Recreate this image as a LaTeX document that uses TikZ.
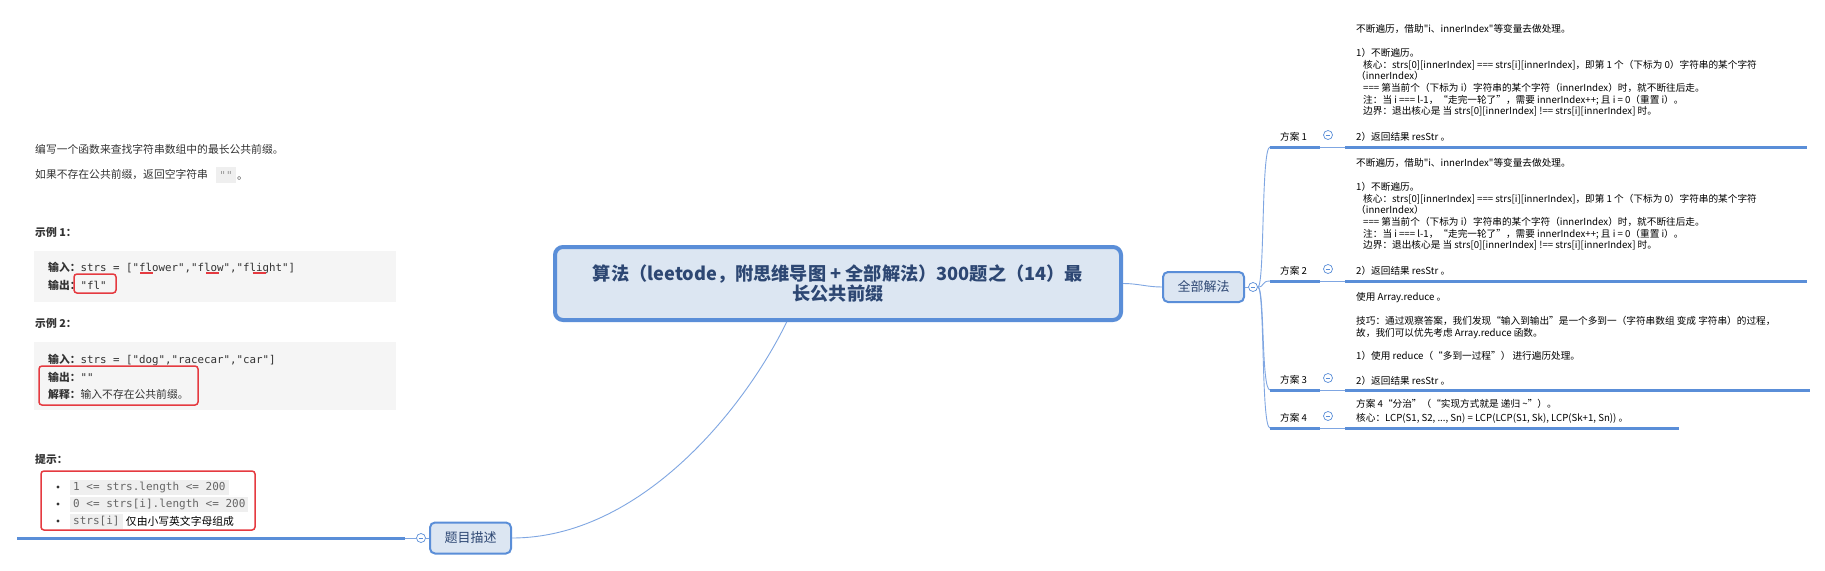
\documentclass[tikz,border=0pt]{standalone}
\usepackage{fontspec}
\setmainfont{Noto Sans CJK SC}
\newfontfamily\cjkplain{Noto Sans CJK SC}
\setmonofont{DejaVu Sans Mono}
\usepackage{xcolor}
\usepackage{tikz}
\usetikzlibrary{positioning}
\usetikzlibrary{calc}

\definecolor{mapblue}{HTML}{5A8ED8}
\definecolor{linkblue}{HTML}{7FA6E2}
\definecolor{mapfill}{HTML}{DCE6F2}
\definecolor{titleink}{HTML}{2D4773}
\definecolor{hintred}{HTML}{E53A40}
\definecolor{codebg}{HTML}{F5F5F5}
\definecolor{inlinebg}{HTML}{EFEFEF}
\definecolor{bodyink}{HTML}{333333}
\definecolor{codeink}{HTML}{666666}

\begin{document}
\begin{tikzpicture}[x=1pt, y=-1pt,
    topic/.style={draw=mapblue, fill=mapfill, line width=2pt, rounded corners=5pt,
        inner sep=0pt, text=titleink, font=\fontsize{13}{15}\selectfont},
    fold/.style={circle, draw=mapblue, fill=white, line width=0.7pt, minimum size=9pt, inner sep=0pt,
        path picture={\draw[mapblue, line width=0.7pt]
            ([xshift=-2.4pt]path picture bounding box.center) -- ([xshift=2.4pt]path picture bounding box.center);}},
    link/.style={linkblue, line width=0.9pt},
    branch/.style={mapblue, line width=3pt},
    txt/.style={inner sep=0pt, text=bodyink, font=\fontsize{10.8}{13}\selectfont},
    head/.style={txt, font=\bfseries\fontsize{10.8}{13}\selectfont},
    note/.style={inner sep=0pt, text=black, align=left, font=\cjkplain\fontsize{9.65}{11.7}\selectfont},
    codebox/.style={fill=codebg, inner sep=0pt},
    inlinecode/.style={fill=inlinebg, inner xsep=3pt, inner ysep=0pt, minimum height=15pt, text=codeink,
        font=\ttfamily\fontsize{11}{13}\selectfont},
    hintbox/.style={draw=hintred, line width=1.5pt, rounded corners=3pt, inner sep=0pt},
    hintline/.style={hintred, line width=1.6pt}]

    \fill[white] (0,0) rectangle (1825,570);
    \useasboundingbox (0,0) rectangle (1825,570);

    % central topic and the two main branches
    \node[topic, line width=4pt, rounded corners=8pt, minimum width=566pt, minimum height=73pt, align=center,
        font=\bfseries\fontsize{18.2}{20.5}\selectfont] (title) at (838,283.5)
        {算法（leetode，附思维导图 + 全部解法）300题之（14）最\\长公共前缀};
    \node[topic, minimum width=81pt, minimum height=30pt] (qb) at (1203.5,287) {全部解法};
    \node[fold] (qbfold) at (1253,287) {};
    \node[topic, minimum width=81pt, minimum height=31pt] (tm) at (470.5,538) {题目描述};
    \node[fold] (tmfold) at (421,538) {};
    \coordinate (tmcut) at (405,538);
    \coordinate (tmend) at (17,538);

    \draw[link] (title.east) to[out=0, in=180] (qb.west);
    \draw[link] (qb.east) -- (qbfold.west);
    \draw[link] ($(title.south west)!0.41!(title.south east)$) .. controls +(-43,88) and +(128,0) .. (tm.east);
    \draw[link] (tm.west) -- (tmfold.east);
    \draw[link] (tmfold.west) -- (tmcut);
    \draw[branch] (tmcut) -- (tmend);

    % solutions
    \foreach \i/\y/\e in {1/147/1807, 2/281/1807, 3/390/1810, 4/428/1679}{
        \coordinate (s\i) at (1270,\y);
        \coordinate (m\i) at (1320,\y);
        \coordinate (n\i) at (1345,\y);
        \coordinate (e\i) at (\e,\y);
        \node[note, anchor=west] (plan\i) at (1280,{\y-10}) {方案 \i};
        \node[fold] (fold\i) at (1328,{\y-12}) {};
        \draw[link] (qbfold.east) .. controls +(7,0) and +(-9,0) .. (s\i);
        \draw[branch] (s\i) -- (m\i);
        \draw[link] (m\i) -- (n\i);
        \draw[branch] (n\i) -- (e\i);
    }

    \node[note, anchor=north west] (plan1txt) at (1356,24.6) {不断遍历，借助"i、innerIndex"等变量去做处理。\\[11.7pt]
        1）不断遍历。\\
        \hspace*{7pt}核心：strs[0][innerIndex] === strs[i][innerIndex]，即第 1 个（下标为 0）字符串的某个字符\\
        （innerIndex）\\
        \hspace*{7pt}=== 第当前个（下标为 i）字符串的某个字符（innerIndex）时，就不断往后走。\\
        \hspace*{7pt}注：当 i === l-1，“走完一轮了”，需要 innerIndex++; 且 i = 0（重置 i）。\\
        \hspace*{7pt}边界：退出核心是 当 strs[0][innerIndex] !== strs[i][innerIndex] 时。\\[14.3pt]
        2）返回结果 resStr 。};
    \node[note, anchor=north west] (plan2txt) at (1356,158.6) {不断遍历，借助"i、innerIndex"等变量去做处理。\\[11.7pt]
        1）不断遍历。\\
        \hspace*{7pt}核心：strs[0][innerIndex] === strs[i][innerIndex]，即第 1 个（下标为 0）字符串的某个字符\\
        （innerIndex）\\
        \hspace*{7pt}=== 第当前个（下标为 i）字符串的某个字符（innerIndex）时，就不断往后走。\\
        \hspace*{7pt}注：当 i === l-1，“走完一轮了”，需要 innerIndex++; 且 i = 0（重置 i）。\\
        \hspace*{7pt}边界：退出核心是 当 strs[0][innerIndex] !== strs[i][innerIndex] 时。\\[14.3pt]
        2）返回结果 resStr 。};
    \node[note, anchor=north west] (plan3txt) at (1356,292.6) {使用 Array.reduce 。\\[11.7pt]
        技巧：通过观察答案，我们发现“输入到输出”是一个多到一（字符串数组 变成 字符串）的过程，\\
        故，我们可以优先考虑 Array.reduce 函数。\\[11.7pt]
        1）使用 reduce（“多到一过程”） 进行遍历处理。\\[13.3pt]
        2）返回结果 resStr 。};
    \node[note, anchor=north west] (plan4txt) at (1356,398.6) {方案 4“分治”（“实现方式就是 递归 \textasciitilde”）。\\[3pt]
        核心：LCP(S1, S2, ..., Sn) = LCP(LCP(S1, Sk), LCP(Sk+1, Sn)) 。};

    % problem statement
    \node[txt, anchor=west] (desc1) at (35,149) {编写一个函数来查找字符串数组中的最长公共前缀。};
    \node[txt, anchor=west] (desc2) at (35,175) {如果不存在公共前缀，返回空字符串};
    \node[inlinecode, right=8pt of desc2, text=black!40, minimum height=16pt] (emptystr) {""};
    \node[txt, right=1pt of emptystr] (desc2end) {\vphantom{字}。};

    \node[head, anchor=west] (ex1head) at (35,232) {示例 1：};
    \node[codebox, anchor=north west, minimum width=362pt, minimum height=51pt] (ex1box) at (34,251) {};
    \node[txt, anchor=base west] (in1) at (48,271) {\textbf{输入：}\texttt{strs = ["flower","flow","flight"]}};
    \node[txt, anchor=base west] (out1) at (48,289) {\textbf{输出：}\texttt{"fl"}};
    \node[hintbox, minimum width=42pt, minimum height=19pt] (flbox) at (95,283.5) {};
    \foreach \d in {92.0, 158.2, 204.6}
        \draw[hintline] ($(in1.base west)+(\d,2.2)$) -- +(13.2,0);

    \node[head, anchor=west] (ex2head) at (35,323) {示例 2：};
    \node[codebox, anchor=north west, minimum width=362pt, minimum height=68pt] (ex2box) at (34,342) {};
    \node[txt, anchor=base west] (in2) at (48,363) {\textbf{输入：}\texttt{strs = ["dog","racecar","car"]}};
    \node[txt, anchor=base west] (out2) at (48,381) {\textbf{输出：}\texttt{""}};
    \node[txt, anchor=base west] (expl) at (48,398) {\textbf{解释：}输入不存在公共前缀。};
    \node[hintbox, minimum width=159pt, minimum height=39pt] (ex2hint) at (118.5,385.5) {};

    \node[head, anchor=west] (tiphead) at (35,459) {提示：};
    \node[hintbox, minimum width=214pt, minimum height=59pt] (tiphint) at (148,500.5) {};
    \node[inlinecode, anchor=west] (tip1) at (70,487) {1 <= strs.length <= 200};
    \node[inlinecode, anchor=west] (tip2) at (70,504) {0 <= strs[i].length <= 200};
    \node[inlinecode, anchor=west] (tip3) at (70,521) {strs[i]};
    \node[txt, text=black, right=3pt of tip3] (tip3rest) {仅由小写英文字母组成};
    \foreach \t in {tip1,tip2,tip3}
        \fill[black!80] ($(\t.west)+(-12,0)$) circle (1.7pt);
\end{tikzpicture}
\end{document}
